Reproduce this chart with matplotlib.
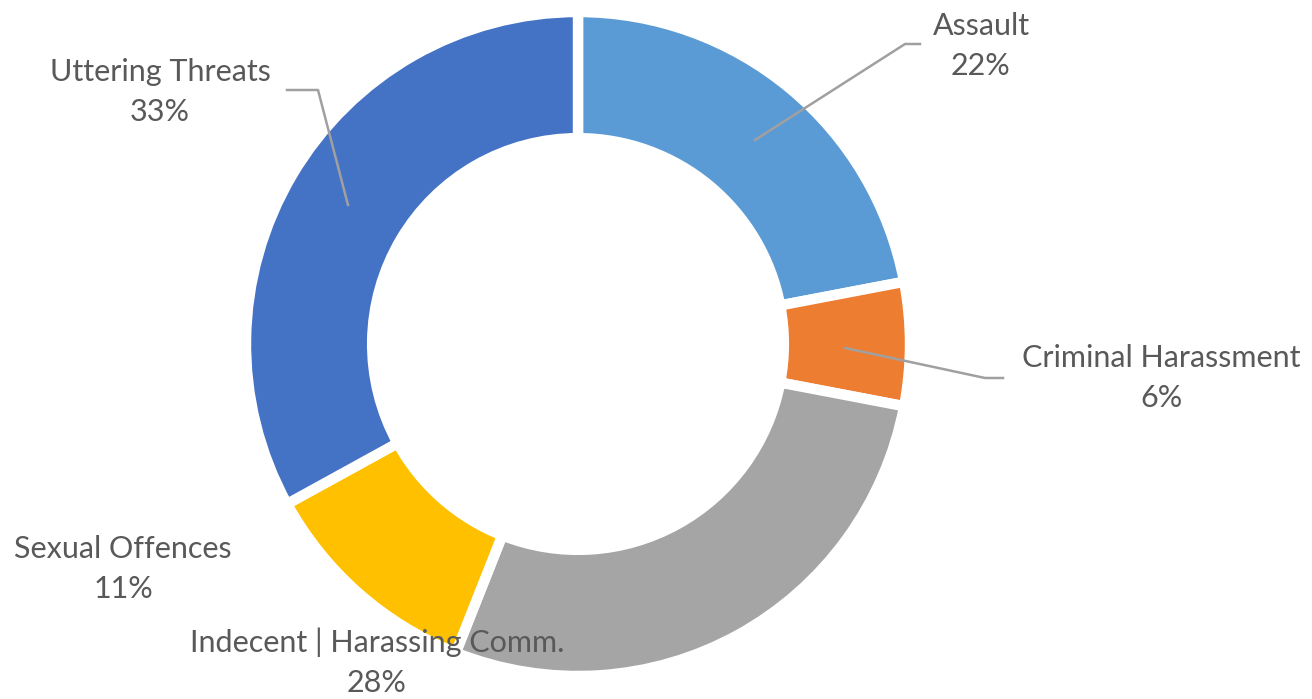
import matplotlib
matplotlib.use("Agg")
import matplotlib.pyplot as plt

categories = ["Assault", "Criminal Harassment", "Indecent | Harassing Comm.",
              "Sexual Offences", "Uttering Threats"]
values = [22, 6, 28, 11, 33]
colors = ["#5B9BD5", "#ED7D31", "#A5A5A5", "#FFC000", "#4472C4"]

plt.rcParams['font.family'] = ['Lato', 'DejaVu Sans']

W, H = 1312, 699
fig = plt.figure(figsize=(W / 100, H / 100), dpi=100)
cx, cy, R = 578, 344, 332
ax = fig.add_axes([(cx - R) / W, (H - cy - R) / H, 2 * R / W, 2 * R / H])

wedges, _ = ax.pie(values, colors=colors, startangle=90, counterclock=False,
                   radius=1, wedgeprops=dict(width=0.38, edgecolor='white', linewidth=7.5))
ax.set_xlim(-1, 1)
ax.set_ylim(-1, 1)
ax.set_aspect('equal')
ax.axis('off')

def d(px, py):
    return ((px - cx) / R, (cy - py) / R)

label_pos = [d(981, 46), d(1161, 378), d(377, 662), d(123, 569), d(160, 92)]
leaders = [
    [d(755, 140), d(905, 44), d(920, 44)],
    [d(845, 348), d(985, 378), d(1003, 378)],
    None,
    None,
    [d(348, 205), d(318, 90), d(287, 90)],
]

for cat, val, pos, ld in zip(categories, values, label_pos, leaders):
    if ld is not None:
        xs = [p[0] for p in ld]
        ys = [p[1] for p in ld]
        ax.plot(xs, ys, color='#A0A0A0', lw=1.8, clip_on=False, zorder=3)
    ax.text(pos[0], pos[1], f"{cat}\n{val}%", ha='center', va='center',
            fontsize=22, color='#595959', linespacing=1.5, clip_on=False, zorder=4)

fig.savefig("out.png", dpi=100)
